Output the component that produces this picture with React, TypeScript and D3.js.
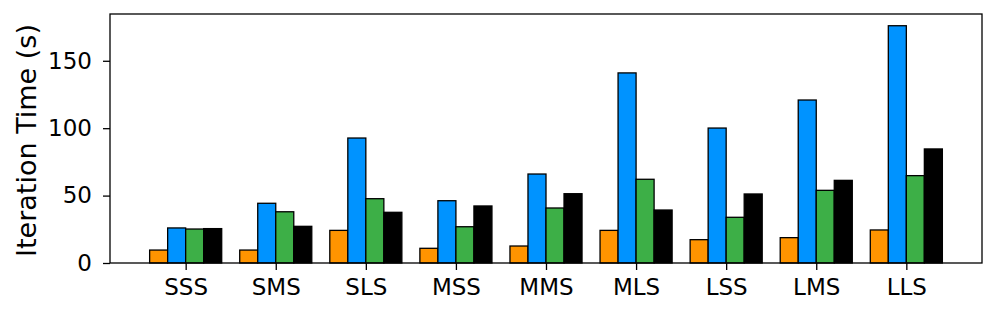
import React, { useRef, useEffect } from "react";
import { select, scaleLinear, axisBottom, axisLeft } from "d3";

const categories = ["SSS", "SMS", "SLS", "MSS", "MMS", "MLS", "LSS", "LMS", "LLS"];
const orangeValues = [9.6, 9.6, 24.2, 10.9, 12.6, 24.2, 17.3, 18.8, 24.5];
const blueValues = [26, 44.3, 92.7, 46.2, 66, 141, 100.1, 120.9, 176];
const greenValues = [25.2, 38, 47.7, 26.9, 40.8, 62.1, 33.9, 53.9, 64.8];
const blackValues = [25.5, 27.2, 37.6, 42.3, 51.4, 39.3, 51.2, 61.3, 84.6];
const yTicks = [0, 50, 100, 150];

const seriesList = [
  { values: orangeValues, color: "#ff9400" },
  { values: blueValues, color: "#0093ff" },
  { values: greenValues, color: "#3daf47" },
  { values: blackValues, color: "#000000" },
];

const width = 996;
const height = 315;
const left = 110;
const right = 982;
const top = 14;
const bottom = 263;
const barW = 0.2;

const App: React.FC = () => {
  const svgRef = useRef<SVGSVGElement>(null);

  useEffect(() => {
    const svg = select(svgRef.current);
    svg.selectAll("*").remove();

    const x = scaleLinear().domain([-0.84, categories.length - 1 + 0.84]).range([left, right]);
    const y = scaleLinear().domain([0, 184.7]).range([bottom, top]);

    seriesList.forEach((s, si) => {
      const offset = (si - 2) * barW;
      svg
        .append("g")
        .selectAll("rect")
        .data(s.values)
        .join("rect")
        .attr("x", (_, i) => x(i + offset))
        .attr("y", (d) => y(d))
        .attr("width", x(barW) - x(0))
        .attr("height", (d) => bottom - y(d))
        .attr("fill", s.color)
        .attr("stroke", "#000")
        .attr("stroke-width", 1.3);
    });

    const xAxis = axisBottom(x)
      .tickValues(categories.map((_, i) => i))
      .tickFormat((d) => categories[d as number])
      .tickSize(7)
      .tickSizeOuter(0)
      .tickPadding(9);
    const yAxis = axisLeft(y).tickValues(yTicks).tickSize(7).tickSizeOuter(0).tickPadding(11);

    const gx = svg.append("g").attr("transform", `translate(0,${bottom})`).call(xAxis);
    const gy = svg.append("g").attr("transform", `translate(${left},0)`).call(yAxis);
    [gx, gy].forEach((g) => {
      g.select(".domain").remove();
      g.selectAll("line").attr("stroke", "#000").attr("stroke-width", 1.3);
      g.selectAll("text")
        .attr("fill", "#000")
        .style("font-family", "DejaVu Sans")
        .style("font-size", "23px");
    });

    svg
      .append("rect")
      .attr("x", left)
      .attr("y", top)
      .attr("width", right - left)
      .attr("height", bottom - top)
      .attr("fill", "none")
      .attr("stroke", "#000")
      .attr("stroke-width", 1.3);

    svg
      .append("text")
      .text("Iteration Time (s)")
      .attr("transform", `translate(36,${(top + bottom) / 2 + 2}) rotate(-90)`)
      .attr("text-anchor", "middle")
      .style("font-family", "DejaVu Sans")
      .style("font-size", "27px")
      .attr("fill", "#000");
  }, []);

  return (
    <svg
      ref={svgRef}
      width={width}
      height={height}
      style={{ position: "absolute", left: 0, top: 0, background: "#fff" }}
    ></svg>
  );
};

export default App;
